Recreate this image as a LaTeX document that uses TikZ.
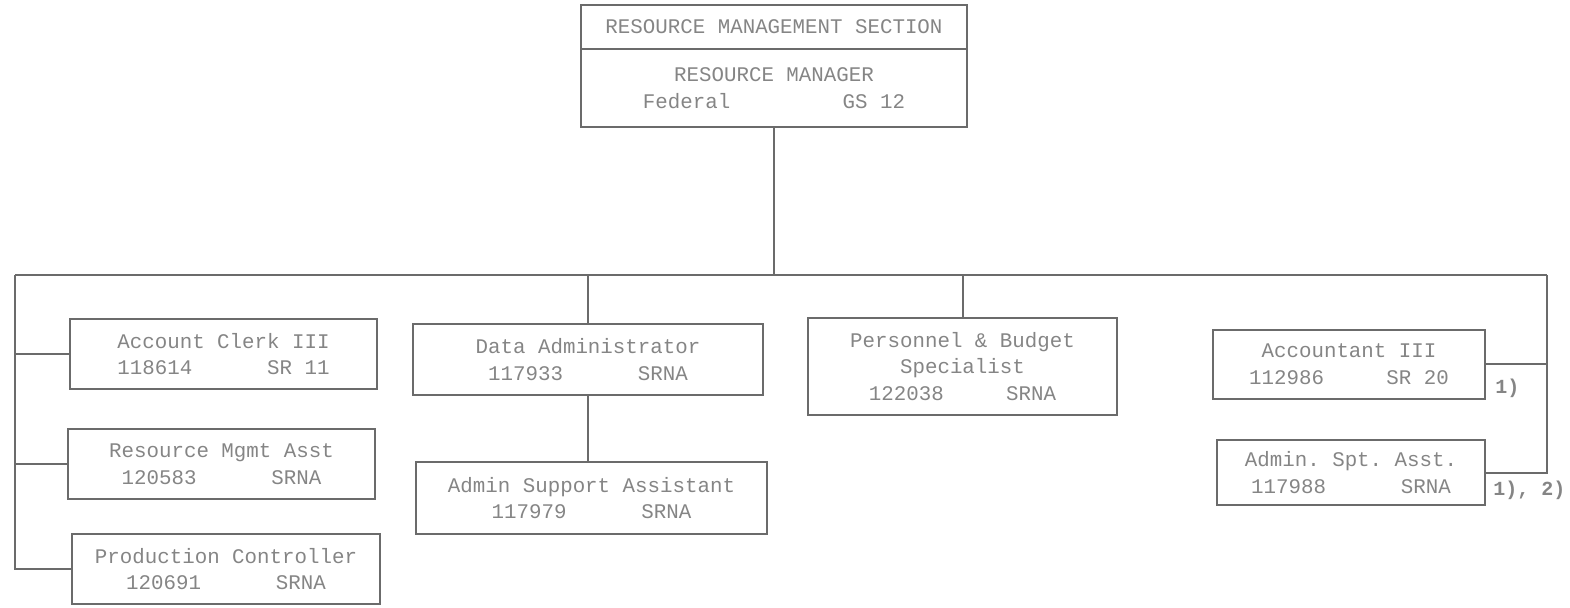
\documentclass[tikz,border=0pt]{standalone}
\usepackage{fontspec}
\setmonofont{Liberation Mono}
\definecolor{linegray}{gray}{0.42}
\definecolor{textgray}{gray}{0.52}
\begin{document}
\begin{tikzpicture}[x=0.5pt, y=-0.5pt,
  box/.style={draw=linegray, line width=1pt, align=center, inner sep=0pt, text=textgray, font=\ttfamily\fontsize{10.4}{13.2}\selectfont},
  link/.style={draw=linegray, line width=1pt},
  note/.style={anchor=base west, inner sep=0pt, text=textgray, font=\ttfamily\bfseries\fontsize{10}{12}\selectfont}
]
\useasboundingbox (0,0) rectangle (1570,607);
% head of section
\node[box, minimum width=193pt, minimum height=22pt] (rmsec) at (774,27) {RESOURCE MANAGEMENT SECTION};
\node[box, minimum width=193pt, minimum height=39pt] (rmgr) at (774,88) {RESOURCE MANAGER\\Federal~~~~~~~~~GS 12};
% left column
\node[box, minimum width=153.5pt, minimum height=35pt] (clerk) at (223.5,354) {Account Clerk III\\118614~~~~~~SR 11};
\node[box, minimum width=153.5pt, minimum height=35pt] (rmasst) at (221.5,464) {Resource Mgmt Asst\\120583~~~~~~SRNA};
\node[box, minimum width=154pt, minimum height=35pt] (prodctl) at (226,569) {Production Controller\\120691~~~~~~SRNA};
% middle
\node[box, minimum width=175pt, minimum height=35.5pt] (dataadm) at (588,359.5) {Data Administrator\\117933~~~~~~SRNA};
\node[box, minimum width=175.5pt, minimum height=36pt] (adminsupp) at (591.5,498) {Admin Support Assistant\\117979~~~~~~SRNA};
\node[box, minimum width=154.5pt, minimum height=48.5pt] (persbud) at (962.5,366.5) {Personnel \& Budget\\Specialist\\122038~~~~~SRNA};
% right column
\node[box, minimum width=136pt, minimum height=34.5pt] (acct) at (1349,364) {Accountant III\\112986~~~~~SR 20};
\node[box, minimum width=134pt, minimum height=32.5pt] (admspt) at (1351,472.5) {Admin. Spt. Asst.\\117988~~~~~~SRNA};
\node[note] (note1) at (1495,393) {1)};
\node[note] (note2) at (1493,495) {1), 2)};
% connectors
\coordinate (bus) at (774,275);
\coordinate (busL) at (15,275);
\coordinate (busR) at (1547,275);
\draw[link] (rmgr) -- (bus);
\draw[link] (busL) -- (busR);
\draw[link] (busL) -- (busL |- prodctl.west) -- (prodctl.west);
\draw[link] (busL |- clerk.west) -- (clerk.west);
\draw[link] (busL |- rmasst.west) -- (rmasst.west);
\draw[link] (dataadm.north |- busL) -- (dataadm.north);
\draw[link] (dataadm.south) -- (dataadm.south |- adminsupp.north);
\draw[link] (persbud.north |- busL) -- (persbud.north);
\draw[link] (busR) -- (busR |- admspt.east) -- (admspt.east);
\draw[link] (acct.east) -- (acct.east -| busR);
\end{tikzpicture}
\end{document}
